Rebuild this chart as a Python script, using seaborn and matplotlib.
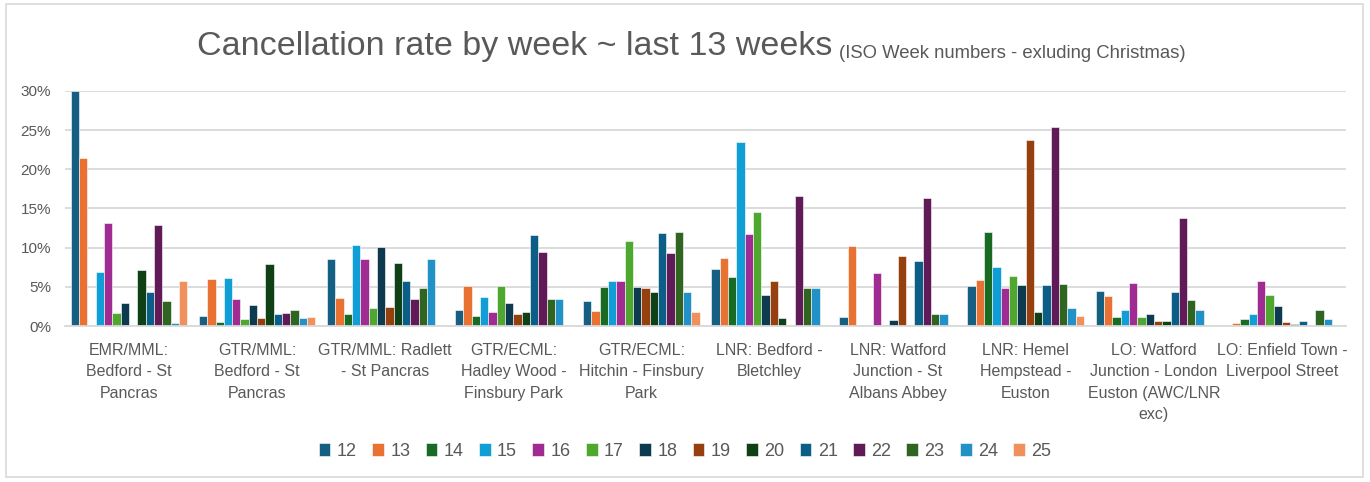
import matplotlib
matplotlib.use("Agg")
import matplotlib.pyplot as plt
import seaborn as sns
import pandas as pd
import numpy as np
from matplotlib.patches import Rectangle
from matplotlib.ticker import PercentFormatter

routes = [
    "EMR/MML:\nBedford - St\nPancras",
    "GTR/MML:\nBedford - St\nPancras",
    "GTR/MML: Radlett\n- St Pancras",
    "GTR/ECML:\nHadley Wood -\nFinsbury Park",
    "GTR/ECML:\nHitchin - Finsbury\nPark",
    "LNR: Bedford -\nBletchley",
    "LNR: Watford\nJunction - St\nAlbans Abbey",
    "LNR: Hemel\nHempstead -\nEuston",
    "LO: Watford\nJunction - London\nEuston (AWC/LNR\nexc)",
    "LO: Enfield Town -\nLiverpool Street",
]
weeks = ["12", "13", "14", "15", "16", "17", "18", "19", "20", "21", "22", "23", "24", "25"]

# rates in % per route, one value per week 12..25
emr_bedford = [30.0, 21.5, 0.0, 6.9, 13.1, 1.7, 2.9, 0.0, 7.1, 4.3, 12.9, 3.2, 0.4, 5.7]
gtr_bedford = [1.3, 6.0, 0.5, 6.1, 3.5, 0.9, 2.7, 1.0, 7.9, 1.5, 1.6, 2.0, 1.0, 1.2]
gtr_radlett = [8.5, 3.6, 1.5, 10.3, 8.6, 2.3, 10.1, 2.4, 8.1, 5.8, 3.5, 4.9, 8.5, 0.0]
gtr_hadley = [2.1, 5.1, 1.3, 3.7, 1.8, 5.1, 3.0, 1.5, 1.8, 11.6, 9.5, 3.5, 3.5, 0.0]
gtr_hitchin = [3.2, 1.9, 5.0, 5.7, 5.7, 10.9, 5.0, 4.9, 4.3, 11.9, 9.3, 12.0, 4.4, 1.8]
lnr_bletchley = [7.3, 8.7, 6.2, 23.5, 11.7, 14.6, 3.9, 5.8, 1.0, 0.0, 16.6, 4.9, 4.9, 0.0]
lnr_stalbans = [1.1, 10.2, 0.0, 0.0, 6.8, 0.0, 0.8, 9.0, 0.0, 8.3, 16.4, 1.5, 1.5, 0.0]
lnr_hemel = [5.1, 5.9, 12.0, 7.5, 4.9, 6.4, 5.2, 23.8, 1.8, 5.2, 25.4, 5.3, 2.3, 1.3]
lo_watford = [4.5, 3.8, 1.1, 2.1, 5.5, 1.2, 1.5, 0.7, 0.7, 4.4, 13.8, 3.3, 2.1, 0.0]
lo_enfield = [0.0, 0.4, 0.9, 1.5, 5.7, 4.0, 2.5, 0.5, 0.25, 0.6, 0.0, 2.1, 0.9, 0.0]

series = [emr_bedford, gtr_bedford, gtr_radlett, gtr_hadley, gtr_hitchin,
          lnr_bletchley, lnr_stalbans, lnr_hemel, lo_watford, lo_enfield]

colors = ["#156082", "#E97132", "#196B24", "#0F9ED5", "#A02B93", "#4EA72E",
          "#0D3A4F", "#96400F", "#0F4016", "#0B5F86", "#601A58", "#306421",
          "#2191C6", "#F0905C"]

rows = []
for r, vals in zip(routes, series):
    for w, v in zip(weeks, vals):
        rows.append({"route": r, "week": w, "rate": v / 100.0})
df = pd.DataFrame(rows)

sns.set_theme(style="white")
plt.rcParams["font.family"] = ["Liberation Sans", "DejaVu Sans"]

fig = plt.figure(figsize=(13.70, 4.82), dpi=100)
ax = fig.add_axes([65 / 1370, 1 - 326 / 482, (1346 - 65) / 1370, (326 - 91) / 482])

sns.barplot(data=df, x="route", y="rate", hue="week", hue_order=weeks,
            order=routes, palette=colors, saturation=1, width=0.91, gap=0, ax=ax,
            edgecolor="white", linewidth=0.4, legend=True)

ax.set_ylim(0, 0.30)
ax.set_xlim(-0.5, len(routes) - 0.5)
ax.set_yticks(np.arange(0, 0.301, 0.05))
ax.yaxis.set_major_formatter(PercentFormatter(1.0, decimals=0))
ax.grid(axis="y", color="#D9D9D9", linewidth=1.3)
ax.set_axisbelow(True)
for s in ["top", "right", "left"]:
    ax.spines[s].set_visible(False)
ax.spines["bottom"].set_color("#D9D9D9")
ax.spines["bottom"].set_linewidth(1.3)
ax.set_xlabel("")
ax.set_ylabel("")
ax.tick_params(axis="y", labelsize=11, colors="#595959", length=0, pad=10)
ax.tick_params(axis="x", labelsize=11.5, colors="#595959", length=0, pad=12)
for lbl in ax.get_xticklabels():
    lbl.set_linespacing(1.55)
    lbl.set_va("top")

# legend
handles, labels = ax.get_legend_handles_labels()
ax.get_legend().remove()
fig.legend(handles, labels, loc="center", bbox_to_anchor=(0.5, 1 - 451 / 482),
           ncol=14, frameon=False, fontsize=13, handlelength=0.65,
           handleheight=0.75, handletextpad=0.35, columnspacing=0.85,
           labelcolor="#595959")

# title
fig.canvas.draw()
renderer = fig.canvas.get_renderer()
t1 = fig.text(197 / 1370, 1 - 47 / 482, "Cancellation rate by week ~ last 13 weeks",
              fontsize=24.5, color="#595959", ha="left", va="center")
bb = t1.get_window_extent(renderer)
x_end = bb.x1 / fig.bbox.width
fig.text(x_end + 7 / 1370, bb.y0 / fig.bbox.height + 5 / 482,
         "(ISO Week numbers - exluding Christmas)", fontsize=13.3,
         color="#595959", ha="left", va="baseline")

# outer border
fig.patches.append(Rectangle((6 / 1370, 5 / 482), 1357 / 1370, 473 / 482,
                             transform=fig.transFigure, fill=False,
                             edgecolor="#D9D9D9", linewidth=1.2))

fig.savefig("out.png", dpi=100)
